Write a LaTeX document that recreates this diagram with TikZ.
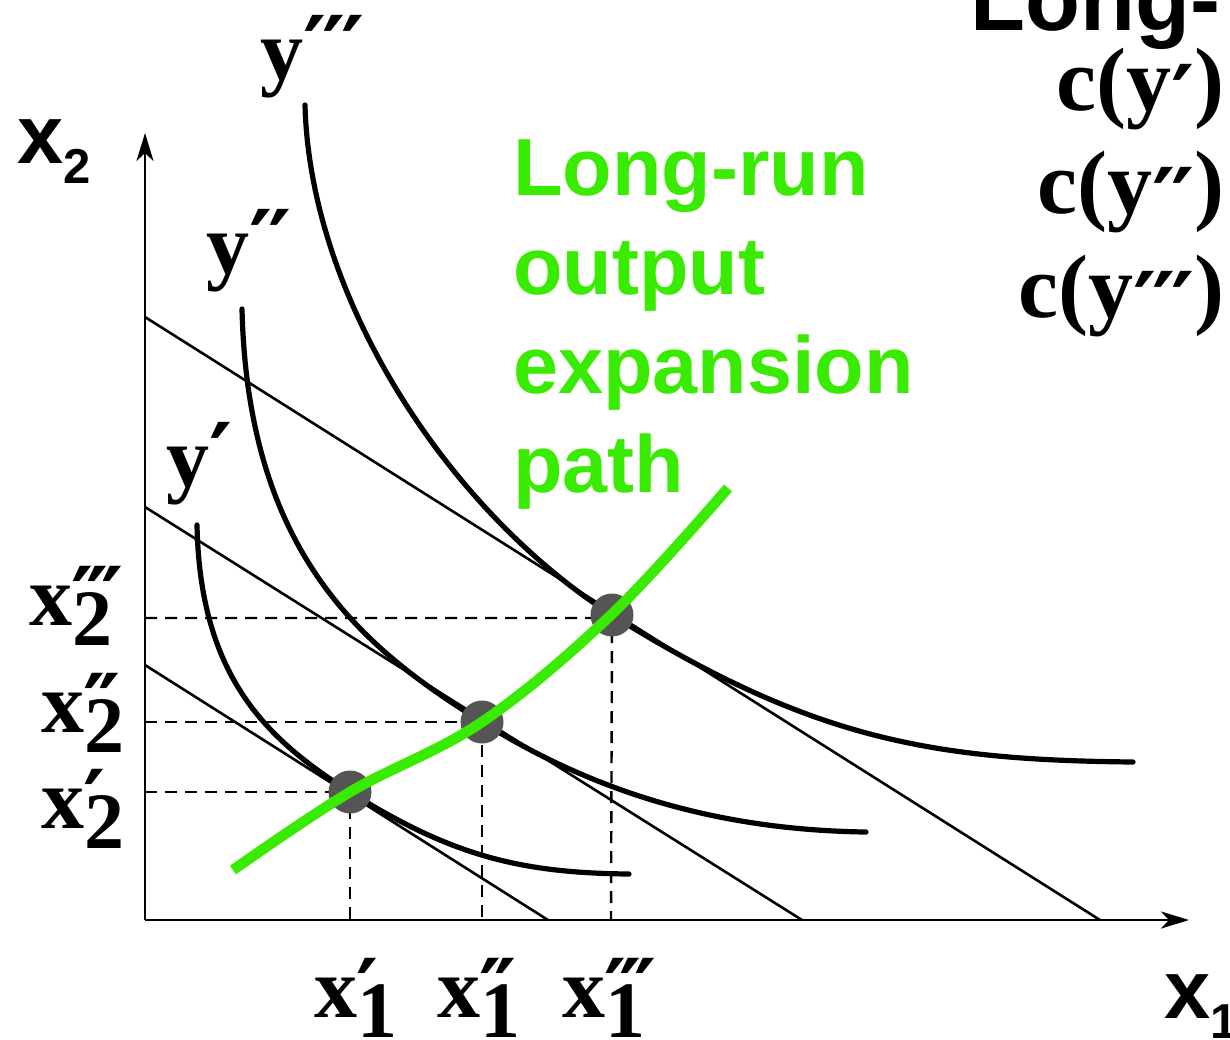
\documentclass[tikz,border=0pt]{standalone}
\usepackage{fontspec}
\setmainfont{Liberation Serif}
\newfontfamily\lsans{Liberation Sans}
\newfontfamily\primefont{DejaVu Sans}
\usetikzlibrary{arrows.meta}
\definecolor{pathgreen}{RGB}{57,235,0}
\definecolor{dotgray}{RGB}{85,85,85}
\newcommand\onepr{′}
\newcommand\primes[2][0pt]{\raisebox{#1}{\primefont\bfseries\fontsize{88}{88}\selectfont\ifcase#2\or\onepr\or\onepr\kern-4pt\onepr\or\onepr\kern-4pt\onepr\kern-4pt\onepr\fi}}
\newcommand\xprimes[2][0pt]{\raisebox{#1}{\primefont\bfseries\fontsize{84}{84}\selectfont\ifcase#2\or\onepr\or\onepr\kern-7pt\onepr\or\onepr\kern-7pt\onepr\kern-7pt\onepr\fi}}
\newcommand\xsub[2]{x\rlap{\kern-1pt\xprimes[-2pt]{#2}}\raisebox{-20pt}{\fontsize{80}{80}\selectfont#1}}
\begin{document}
\begin{tikzpicture}[x=1pt,y=-1pt,
  curve/.style={line width=5.2pt, line cap=round},
  budget/.style={line width=2.6pt},
  axis/.style={line width=2.8pt, -{Stealth[length=28pt,width=17pt,inset=8pt]}},
  guide/.style={line width=2.4pt, dash pattern=on 12pt off 8pt},
  dot/.style={circle, fill=dotgray, minimum size=43pt, inner sep=0pt},
  serifl/.style={font=\fontsize{86}{86}\selectfont\bfseries, inner sep=0pt, anchor=base west},
  clab/.style={font=\fontsize{90}{90}\selectfont\bfseries, inner sep=0pt, anchor=base east},
  greentext/.style={font=\lsans\fontsize{81}{81}\selectfont\bfseries, text=pathgreen, inner sep=0pt, anchor=base west},
  sanslab/.style={font=\lsans\fontsize{83}{83}\selectfont\bfseries, inner sep=0pt, anchor=base west}
]
\useasboundingbox (0,0) rectangle (1230,1039);

% axes corner and ends
\coordinate (O) at (145,920);
\coordinate (ytop) at (145,133);
\coordinate (xend) at (1189,920);

% budget lines
\coordinate (b1s) at (145,665); \coordinate (b1e) at (548,920);
\coordinate (b2s) at (145,507); \coordinate (b2e) at (802,920);
\coordinate (b3s) at (145,317); \coordinate (b3e) at (1100,920);
\draw[budget] (b1s) -- (b1e);
\draw[budget] (b2s) -- (b2e);
\draw[budget] (b3s) -- (b3e);

% tangency points
\coordinate (p1) at (350,792);
\coordinate (p2) at (482,722);
\coordinate (p3) at (612,615);

% isoquants
\draw[curve] (197,525) .. controls (200,680) and (270,741) .. (p1)
                       .. controls (450,855) and (519,873) .. (629,874);
\draw[curve] (242,309) .. controls (248,560) and (370,652) .. (p2)
                       .. controls (592,791) and (716,830) .. (866,832);
\draw[curve] (305,105) .. controls (310,300) and (450,512) .. (p3)
                       .. controls (812,740) and (933,760) .. (1133,762);

\coordinate (q1) at (350,920); \coordinate (r1) at (145,792);
\coordinate (q2) at (482,920); \coordinate (r2) at (145,722);
\coordinate (q3) at (611,920); \coordinate (r3) at (145,618);

% guides
\draw[guide] (r1) -- (p1) -- (q1);
\draw[guide] (r2) -- (p2) -- (q2);
\draw[guide] (r3) -- (r3 -| p3) -- (q3);

% axes
\draw[axis] (O) -- (ytop);
\draw[axis] (O) -- (xend);

% dots
\node[dot] (d1) at (p1) {};
\node[dot] (d2) at (p2) {};
\node[dot] (d3) at (p3) {};

% expansion path
\draw[pathgreen, line width=10.5pt] plot[smooth, tension=0.6] coordinates {(233,870) (350,792) (482,722) (612,614) (728,488)};

% green label
\node[greentext] (g1) at (513,195) {Long-run};
\node[greentext] (g2) at (513,294) {output};
\node[greentext] (g3) at (513,393) {expansion};
\node[greentext] (g4) at (513,492) {path};

% title fragment and cost labels
\node[font=\lsans\fontsize{90}{90}\selectfont\bfseries, inner sep=0pt, anchor=base west] (title) at (970,30) {Long-};
\node[clab] (c1) at (1225,110) {c(y\primes[-18pt]{1})};
\node[clab] (c2) at (1225,213) {c(y\primes[-18pt]{2})};
\node[clab] (c3) at (1225,317) {c(y\primes[-18pt]{3})};

% curve labels
\node[serifl] (y3) at (260,79) {y\primes{3}};
\node[serifl] (y2) at (206,273) {y\primes{2}};
\node[serifl] (y1) at (166,486) {y\primes{1}};

% axis labels
\node[sanslab] (x2ax) at (17,163) {x\raisebox{-20pt}{\fontsize{49}{49}\selectfont 2}};
\node[sanslab] (x1ax) at (1164,1018) {x\raisebox{-20pt}{\fontsize{49}{49}\selectfont 1}};

% tick labels
\node[serifl] (x23) at (29,625) {\xsub{2}{3}};
\node[serifl] (x22) at (41,732) {\xsub{2}{2}};
\node[serifl] (x21) at (41,828) {\xsub{2}{1}};
\node[serifl] (x11) at (314,1017) {\xsub{1}{1}};
\node[serifl] (x12) at (437,1017) {\xsub{1}{2}};
\node[serifl] (x13) at (562,1017) {\xsub{1}{3}};
\end{tikzpicture}
\end{document}
